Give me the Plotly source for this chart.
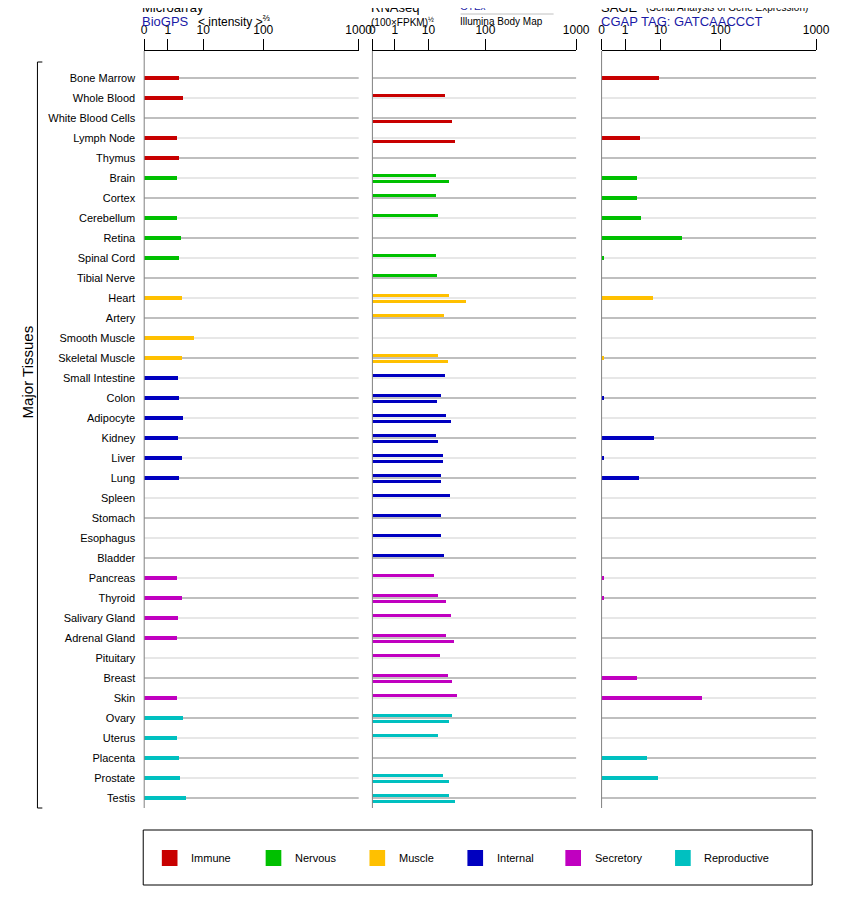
import numpy as np
import plotly.graph_objects as go

tissues = ["Bone Marrow","Whole Blood","White Blood Cells","Lymph Node","Thymus","Brain","Cortex","Cerebellum","Retina","Spinal Cord","Tibial Nerve","Heart","Artery","Smooth Muscle","Skeletal Muscle","Small Intestine","Colon","Adipocyte","Kidney","Liver","Lung","Spleen","Stomach","Esophagus","Bladder","Pancreas","Thyroid","Salivary Gland","Adrenal Gland","Pituitary","Breast","Skin","Ovary","Uterus","Placenta","Prostate","Testis"]
groups = ["Immune"]*5 + ["Nervous"]*6 + ["Muscle"]*4 + ["Internal"]*10 + ["Secretory"]*7 + ["Reproductive"]*5
group_names = ["Immune","Nervous","Muscle","Internal","Secretory","Reproductive"]
group_colors = ["#c80000","#00c000","#ffc000","#0000c0","#c000c0","#00c0c0"]

microarray = [2.1,2.8,None,1.9,2.1,1.9,None,1.8,2.4,2.1,None,2.5,None,5.6,2.5,2.0,2.1,2.8,2.0,2.5,2.1,None,None,None,None,1.9,2.5,2.0,1.9,None,None,1.8,2.8,1.8,2.1,2.2,3.4]
gtex = [None,20,None,None,None,14,14,15,None,14,14.5,23,19,None,15,20,17,21,14,18,17,24,17,17,19,12.5,15,25,21,16,22,32,26,15,None,18,23]
illumina = [None,None,26,30,None,23,None,None,None,None,None,46,None,None,22,None,14.5,25,15,18,17,None,None,None,None,None,21,None,28,None,26,None,23,None,None,23,30]
sage = [8.8,None,None,2.5,None,2.05,2.05,2.7,22,0.05,None,5.9,None,None,0.05,None,0.1,None,6.3,0.1,2.4,None,None,None,None,0.1,0.1,None,None,None,2.05,48,None,None,4.0,8.2,None]

tick_vals = [0,1,10,100,1000]
tick_text = ["0","1","10","100","1000"]
tick_frac = [0,0.11,0.275,0.555,1.0]

def scale(v):
    if v is None:
        return None
    if v <= 1:
        return v*tick_frac[1]
    return float(np.interp(np.log10(v), [0,1,2,3], tick_frac[1:]))

OFF = 8
W, H = 842-2*OFF, 900-2*OFF
def px(x): return (x-OFF)/W
def py(y): return 1-(y-OFF)/H

color_of = {g:c for g,c in zip(group_names, group_colors)}
cols = [color_of[g] for g in groups]
idx = list(range(len(tissues)))

fig = go.Figure()
def add_bars(vals, xa, width, offset):
    ys, xs, cs = [], [], []
    for i,v in enumerate(vals):
        if v is None: continue
        ys.append(i+offset); xs.append(scale(v)); cs.append(cols[i])
    fig.add_trace(go.Bar(y=ys, x=xs, orientation="h", xaxis=xa, yaxis="y",
                         marker=dict(color=cs, line=dict(width=0)), width=width,
                         showlegend=False, hoverinfo="skip"))

add_bars(microarray, "x", 0.22, 0)
add_bars(gtex, "x2", 0.15, -0.15)
add_bars(illumina, "x3", 0.15, 0.15)
add_bars(sage, "x4", 0.22, 0)

panels = [(144,363),(377,585),(611,830)]
ytop, ybot = 51, 808
ax_common = dict(range=[0,1], tickvals=tick_frac, ticktext=tick_text, side="top",
                 showline=True, linecolor="black", linewidth=1, ticks="outside", ticklen=11,
                 tickcolor="black", showgrid=False, zeroline=False, fixedrange=True,
                 tickfont=dict(family="Liberation Sans", size=12, color="black"), anchor="y")
fig.update_layout(
    width=W, height=H, margin=dict(l=0,r=0,t=0,b=0), plot_bgcolor="white", paper_bgcolor="white",
    barmode="overlay", bargap=0,
    xaxis=dict(domain=[px(panels[0][0]),px(panels[0][1])], **ax_common),
    xaxis2=dict(domain=[px(panels[1][0]),px(panels[1][1])], **ax_common),
    xaxis3=dict(domain=[px(panels[1][0]),px(panels[1][1])], overlaying="x2", visible=False, range=[0,1]),
    xaxis4=dict(domain=[px(panels[2][0]),px(panels[2][1])], **ax_common),
    yaxis=dict(domain=[py(ybot),py(ytop)], range=[36.5,-1.35], tickvals=idx, ticktext=tissues,
               showgrid=False, zeroline=False, showline=False, ticks="", ticklabelstandoff=8,
               tickfont=dict(family="Liberation Sans", size=11, color="black"), fixedrange=True),
)

shapes = []
for k,(x0,x1) in enumerate(panels):
    xr = ["x","x2","x4"][k]
    for i in idx:
        shapes.append(dict(type="line", xref=xr+" domain", yref="y", x0=0, x1=1, y0=i, y1=i,
                           line=dict(color="#808080" if i%2==0 else "#d0d0d0", width=1.2), layer="below"))
    shapes.append(dict(type="line", xref="paper", yref="paper", x0=px(x0), x1=px(x0),
                       y0=py(ytop), y1=py(ybot), line=dict(color="#808080", width=1)))
shapes += [dict(type="line", xref="paper", yref="paper", x0=px(35), x1=px(35), y0=py(62), y1=py(808), line=dict(color="black", width=1)),
           dict(type="line", xref="paper", yref="paper", x0=px(35), x1=px(40), y0=py(62), y1=py(62), line=dict(color="black", width=1)),
           dict(type="line", xref="paper", yref="paper", x0=px(35), x1=px(40), y0=py(808), y1=py(808), line=dict(color="black", width=1)),
           dict(type="line", xref="paper", yref="paper", x0=px(467), x1=px(562), y0=py(14), y1=py(14), line=dict(color="#c0c0c0", width=1)),
           dict(type="rect", xref="paper", yref="paper", x0=px(143), x1=px(826), y0=py(830), y1=py(885), line=dict(color="black", width=1))]

annots = []
def txt(x, y, s, size=12, color="black", anchor="left"):
    annots.append(dict(x=px(x), y=py(y), xref="paper", yref="paper", text=s, showarrow=False,
                       xanchor=anchor, yanchor="middle", font=dict(family="Liberation Sans", size=size, color=color)))
blue = "#1a1aa6"
txt(140, 7, "Microarray", 13)
txt(140, 22, "BioGPS", 13, blue)
txt(197, 21, "&lt; intensity &gt;<sup>⅔</sup>", 12)
txt(374, 7, "RNAseq", 13)
txt(374, 22, "(100×FPKM)<sup>½</sup>", 10)
txt(464, 6, "GTEx", 10, blue)
txt(464, 22, "Illumina Body Map", 10)
txt(608, 7, "SAGE", 13)
txt(654, 7, "(Serial Analysis of Gene Expression)", 10)
txt(608, 22, "CGAP TAG: GATCAACCCT", 13, blue)
annots.append(dict(x=px(14), y=py(372), xref="paper", yref="paper", text="Major Tissues", textangle=-90,
                   showarrow=False, font=dict(family="Liberation Sans", size=15, color="black")))
sw = [162,268,374,474,574,686]
for x,g,c in zip(sw, group_names, group_colors):
    shapes.append(dict(type="rect", xref="paper", yref="paper", x0=px(x), x1=px(x+16), y0=py(850), y1=py(866),
                       fillcolor=c, line=dict(width=0)))
    txt(x+28, 858, g, 11)
fig.update_layout(shapes=shapes, annotations=annots)
fig.write_html("out.html")
